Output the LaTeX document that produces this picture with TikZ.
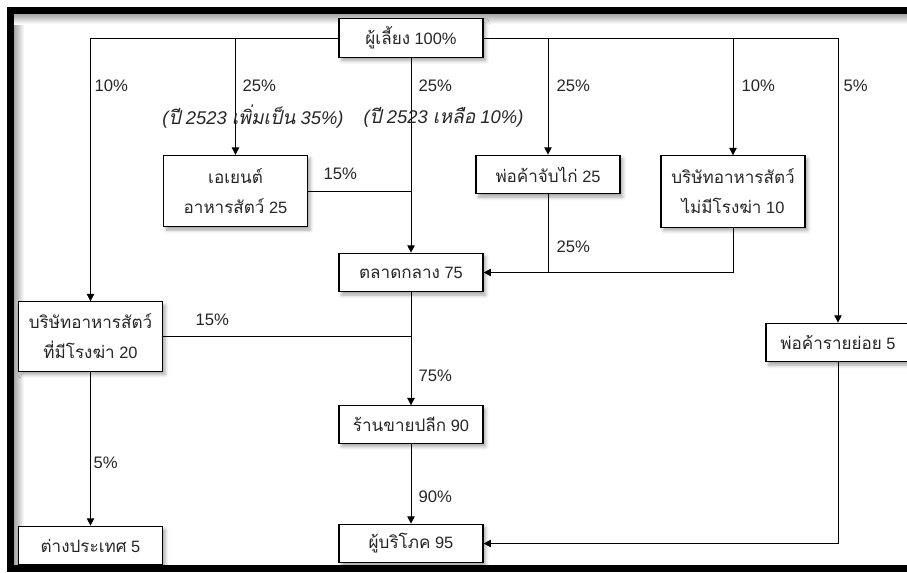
\documentclass[tikz,border=0pt]{standalone}
\usepackage{fontspec}
\setmainfont{Liberation Sans}
\newfontfamily\thaifont[Script=Thai,Scale=1.04]{Loma}
\usetikzlibrary{arrows.meta,shadows.blur}
% Thai words are set in Loma, digits and signs in Liberation Sans
\newcommand\thx[1]{{\thaifont #1}}
\begin{document}
\begin{tikzpicture}[x=0.75pt,y=-0.75pt,
  line width=0.75pt,
  flow/.style={-{Triangle[length=5.5pt,width=5.5pt]}},
  box/.style={draw=black, line width=0.8pt, fill=white, inner sep=0pt,
    minimum width=108pt, minimum height=29pt, align=center,
    text=black!85, font=\fontsize{12.3}{22.5}\selectfont,
    blur shadow={shadow xshift=2pt, shadow yshift=-2.5pt,
      shadow blur radius=2.5pt, shadow opacity=35}},
  tallbox/.style={box, minimum height=53.5pt},
  pct/.style={inner sep=0pt, anchor=west, text=black!85,
    font=\fontsize{12.5}{14}\selectfont},
  note/.style={inner sep=0pt, text=black!85,
    font=\fontsize{13.8}{16}\selectfont\itshape}]
\useasboundingbox (0,0) rectangle (907,572);

% frame with its soft inner shade
\shade[left color=black!35, right color=white] (14,14) rectangle (24,565);
\shade[top color=black!35, bottom color=white] (14,14) rectangle (907,24);
\fill[black] (7,7) rectangle (907,14);
\fill[black] (7,7) rectangle (14,572);
\fill[black] (7,565) rectangle (907,572);

% boxes
\node[box] (src) at (411,38) {\thx{ผู้เลี้ยง} 100\%};
\node[tallbox] (agent) at (235.5,191) {\thx{เอเยนต์}\\\thx{อาหารสัตว์} 25};
\node[box] (chicken) at (548,174.5) {\thx{พ่อค้าจับไก่} 25};
\node[tallbox] (feed) at (733,191.5) {\thx{บริษัทอาหารสัตว์}\\\thx{ไม่มีโรงฆ่า} 10};
\node[box] (market) at (411,272.5) {\thx{ตลาดกลาง} 75};
\node[tallbox, minimum height=52pt] (slaughter) at (90.5,336.5) {\thx{บริษัทอาหารสัตว์}\\\thx{ที่มีโรงฆ่า} 20};
\node[box] (small) at (838,342.5) {\thx{พ่อค้ารายย่อย} 5};
\node[box, minimum height=28pt] (retail) at (411,424.5) {\thx{ร้านขายปลีก} 90};
\node[box] (abroad) at (90.5,545.5) {\thx{ต่างประเทศ} 5};
\node[box] (consumer) at (411,543.5) {\thx{ผู้บริโภค} 95};

% connectors
\draw[flow] (src.west) -| (slaughter.north);
\draw[flow] (agent.north |- src.west) -- (agent.north);
\draw[flow] (src.south) -- (market.north);
\draw[flow] (chicken.north |- src.east) -- (chicken.north);
\draw[flow] (feed.north |- src.east) -- (feed.north);
\draw[flow] (src.east) -| (small.north);
\draw (agent.east) -- (agent.east -| src.south);
\draw[flow] (chicken.south) |- (market.east);
\draw (feed.south) |- (chicken.south |- market.east);
\draw[flow] (market.south) -- (retail.north);
\draw (slaughter.east) -- (slaughter.east -| market.south);
\draw[flow] (retail.south) -- (consumer.north);
\draw[flow] (small.south) |- (consumer.east);
\draw[flow] (slaughter.south) -- (abroad.north);

% shares
\node[pct] (p1) at (94,86) {10\%};
\node[pct] (p2) at (242,86) {25\%};
\node[note] (n1) at (253,117) {(\thx{ปี} 2523 \thx{เพิ่มเป็น} 35\%)};
\node[pct] (p3) at (418,86) {25\%};
\node[note] (n2) at (443.5,117) {(\thx{ปี} 2523 \thx{เหลือ} 10\%)};
\node[pct] (p4) at (323,174) {15\%};
\node[pct] (p5) at (556,86) {25\%};
\node[pct] (p6) at (741,86) {10\%};
\node[pct] (p7) at (843,86) {5\%};
\node[pct] (p8) at (556,247) {25\%};
\node[pct] (p9) at (195,320) {15\%};
\node[pct] (p10) at (418,376) {75\%};
\node[pct] (p11) at (93,463) {5\%};
\node[pct] (p12) at (418,497) {90\%};
\end{tikzpicture}
\end{document}
